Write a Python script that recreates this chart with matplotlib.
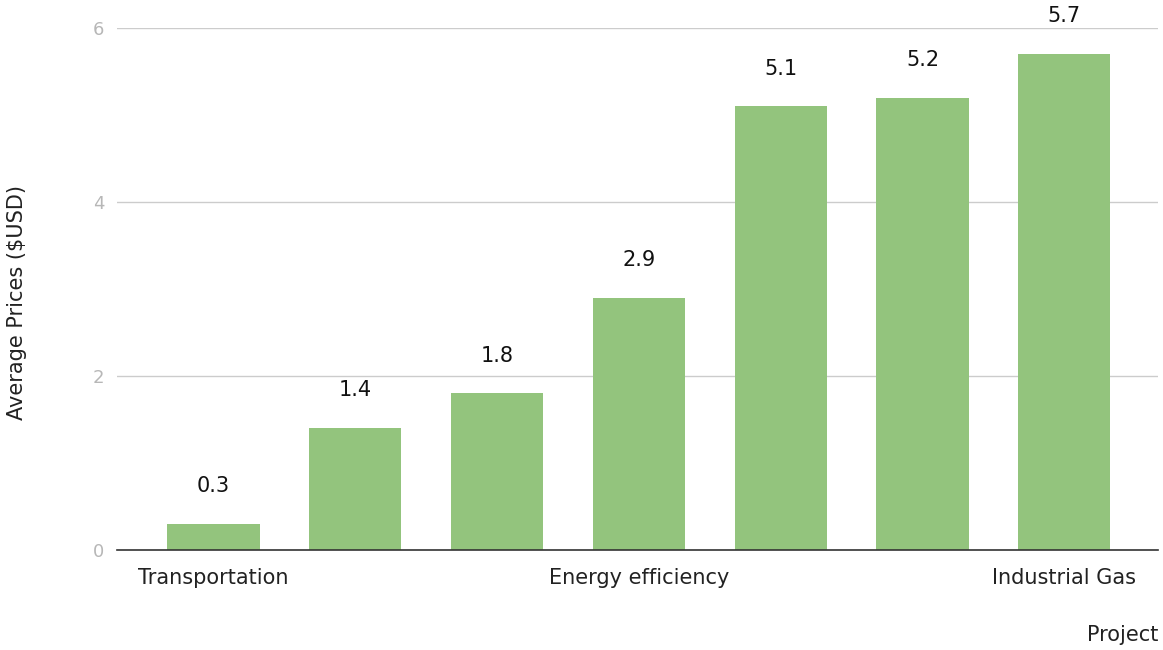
import matplotlib.pyplot as plt

plt.rcParams['font.family'] = ['DejaVu Sans']

# average price per project type (only every third category is labelled on the axis)
projects = ['Transportation', '', '', 'Energy efficiency', '', '', 'Industrial Gas']
prices = [0.3, 1.4, 1.8, 2.9, 5.1, 5.2, 5.7]
y_ticks = [0, 2, 4, 6]

bar_color = '#93c47d'

fig = plt.figure(figsize=(11.63, 6.5), dpi=100)
ax = fig.add_axes([0.1006, 0.1538, 0.8951, 0.8031])

x = list(range(len(prices)))
bars = ax.bar(x, prices, width=0.65, color=bar_color, zorder=3)

for xi, v in zip(x, prices):
    ax.annotate(f'{v}', (xi, v), xytext=(0, 20), textcoords='offset points',
                ha='center', va='bottom', fontsize=15, color='#111111',
                annotation_clip=False)

ax.set_xlim(-0.68, 6.66)
ax.set_ylim(0, 6)
ax.set_yticks(y_ticks)
ax.set_yticklabels([str(t) for t in y_ticks])
ax.set_xticks(x)
ax.set_xticklabels(projects)

ax.tick_params(axis='y', length=0, pad=9, labelsize=13, labelcolor='#b7b7b7')
ax.tick_params(axis='x', length=0, pad=13, labelsize=15, labelcolor='#222222')

ax.grid(axis='y', color='#cccccc', linewidth=1, zorder=0)
for side in ['top', 'right', 'left']:
    ax.spines[side].set_visible(False)
ax.spines['bottom'].set_color('#333333')
ax.spines['bottom'].set_linewidth(1.2)
ax.spines['bottom'].set_zorder(4)

ax.set_ylabel('Average Prices ($USD)', fontsize=15, color='#222222')
ax.yaxis.set_label_coords(-0.0865, 0.475)
fig.text(0.9957, 0.008, 'Project', ha='right', va='bottom', fontsize=15, color='#222222')

fig.savefig('out.png', dpi=100)
